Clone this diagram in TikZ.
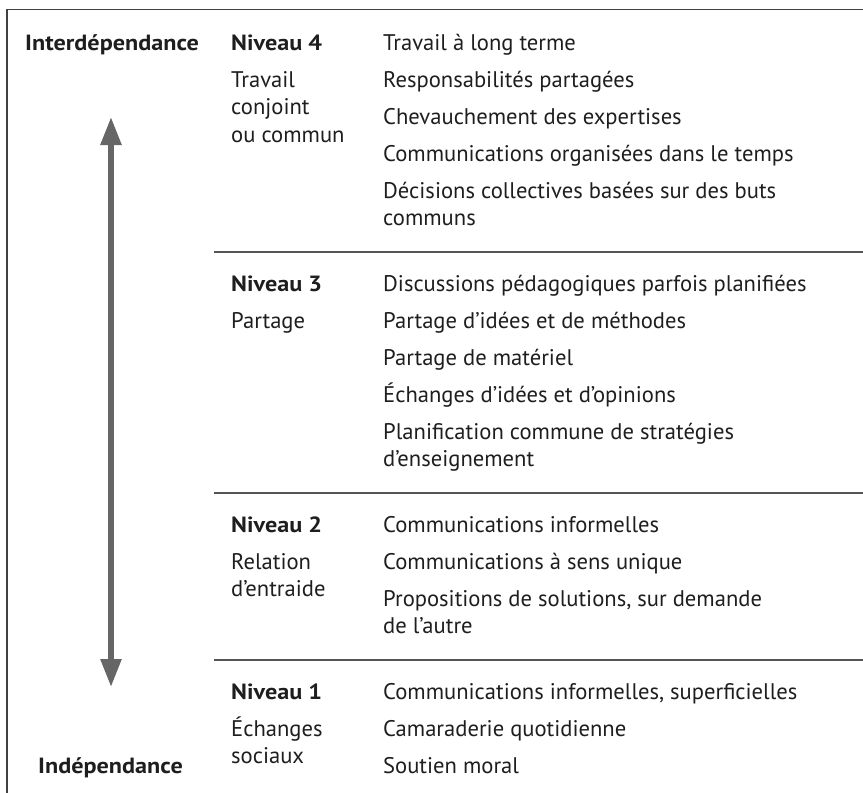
\documentclass[tikz,border=0pt]{standalone}
\usepackage{fontspec}
\usepackage{graphicx}
\setmainfont{PT Sans}
\usetikzlibrary{arrows.meta}
\definecolor{ink}{HTML}{1E1E1E}
\definecolor{rulegray}{HTML}{555555}
\definecolor{arrowgray}{HTML}{666666}
% bold headings, set a little wider than the body text
\newcommand{\headtext}[1]{\fontsize{22}{26}\selectfont\scalebox{1.1}[1]{\bfseries #1}}
\begin{document}
\begin{tikzpicture}[x=1pt,y=-1pt,
  txt/.style={anchor=base west, inner sep=0pt, text=ink, font=\fontsize{22.6}{26}\selectfont},
  hdr/.style={txt},
  rule/.style={line width=1.4pt, draw=rulegray},
  scalearrow/.style={line width=5.5pt, draw=arrowgray,
    {Triangle[width=20pt,length=28pt]}-{Triangle[width=20pt,length=28pt]}}]
\useasboundingbox (0,0) rectangle (863,793);

% frame: top and left edges
\coordinate (frameTL) at (7,9.5);
\coordinate (frameTR) at (863,9.5);
\coordinate (frameBL) at (7,793);
\draw[rule, line width=1.6pt, draw=black!75] (frameTR) -- (frameTL) -- (frameBL);

% separators between levels
\foreach \y/\n in {252/sepA,493/sepB,660/sepC}{
  \coordinate (\n L) at (214,\y);
  \coordinate (\n R) at (863,\y);
  \draw[rule] (\n L) -- (\n R);
}

% scale axis
\node[hdr] (inter) at (25,50) {\headtext{Interdépendance}};
\node[hdr] (indep) at (38,773) {\headtext{Indépendance}};
\coordinate (axisTop) at (111,117);
\coordinate (axisBot) at (111,687);
\draw[scalearrow] (axisBot) -- (axisTop);

% level 4
\node[hdr] (n4) at (231,50) {\headtext{Niveau 4}};
\node[txt] (n4a) at (231,87) {Travail};
\node[txt] (n4b) at (231,114.5) {conjoint};
\node[txt] (n4c) at (231,142) {ou commun};
\node[txt] (i4a) at (383,50) {Travail à long terme};
\node[txt] (i4b) at (383,87) {Responsabilités partagées};
\node[txt] (i4c) at (383,124) {Chevauchement des expertises};
\node[txt] (i4d) at (383,161) {Communications organisées dans le temps};
\node[txt] (i4e) at (383,198) {Décisions collectives basées sur des buts};
\node[txt] (i4f) at (383,225.5) {communs};

% level 3
\node[hdr] (n3) at (231,291) {\headtext{Niveau 3}};
\node[txt] (n3a) at (231,328) {Partage};
\node[txt] (i3a) at (383,291) {Discussions pédagogiques parfois planifiées};
\node[txt] (i3b) at (383,328) {Partage d’idées et de méthodes};
\node[txt] (i3c) at (383,365) {Partage de matériel};
\node[txt] (i3d) at (383,402) {Échanges d’idées et d’opinions};
\node[txt] (i3e) at (383,439) {Planification commune de stratégies};
\node[txt] (i3f) at (383,466.5) {d’enseignement};

% level 2
\node[hdr] (n2) at (231,532) {\headtext{Niveau 2}};
\node[txt] (n2a) at (231,569) {Relation};
\node[txt] (n2b) at (231,596.5) {d’entraide};
\node[txt] (i2a) at (383,532) {Communications informelles};
\node[txt] (i2b) at (383,569) {Communications à sens unique};
\node[txt] (i2c) at (383,606) {Propositions de solutions, sur demande};
\node[txt] (i2d) at (383,633.5) {de l’autre};

% level 1
\node[hdr] (n1) at (231,699) {\headtext{Niveau 1}};
\node[txt] (n1a) at (231,736) {Échanges};
\node[txt] (n1b) at (231,763.5) {sociaux};
\node[txt] (i1a) at (383,699) {Communications informelles, superficielles};
\node[txt] (i1b) at (383,736) {Camaraderie quotidienne};
\node[txt] (i1c) at (383,773) {Soutien moral};
\end{tikzpicture}
\end{document}
